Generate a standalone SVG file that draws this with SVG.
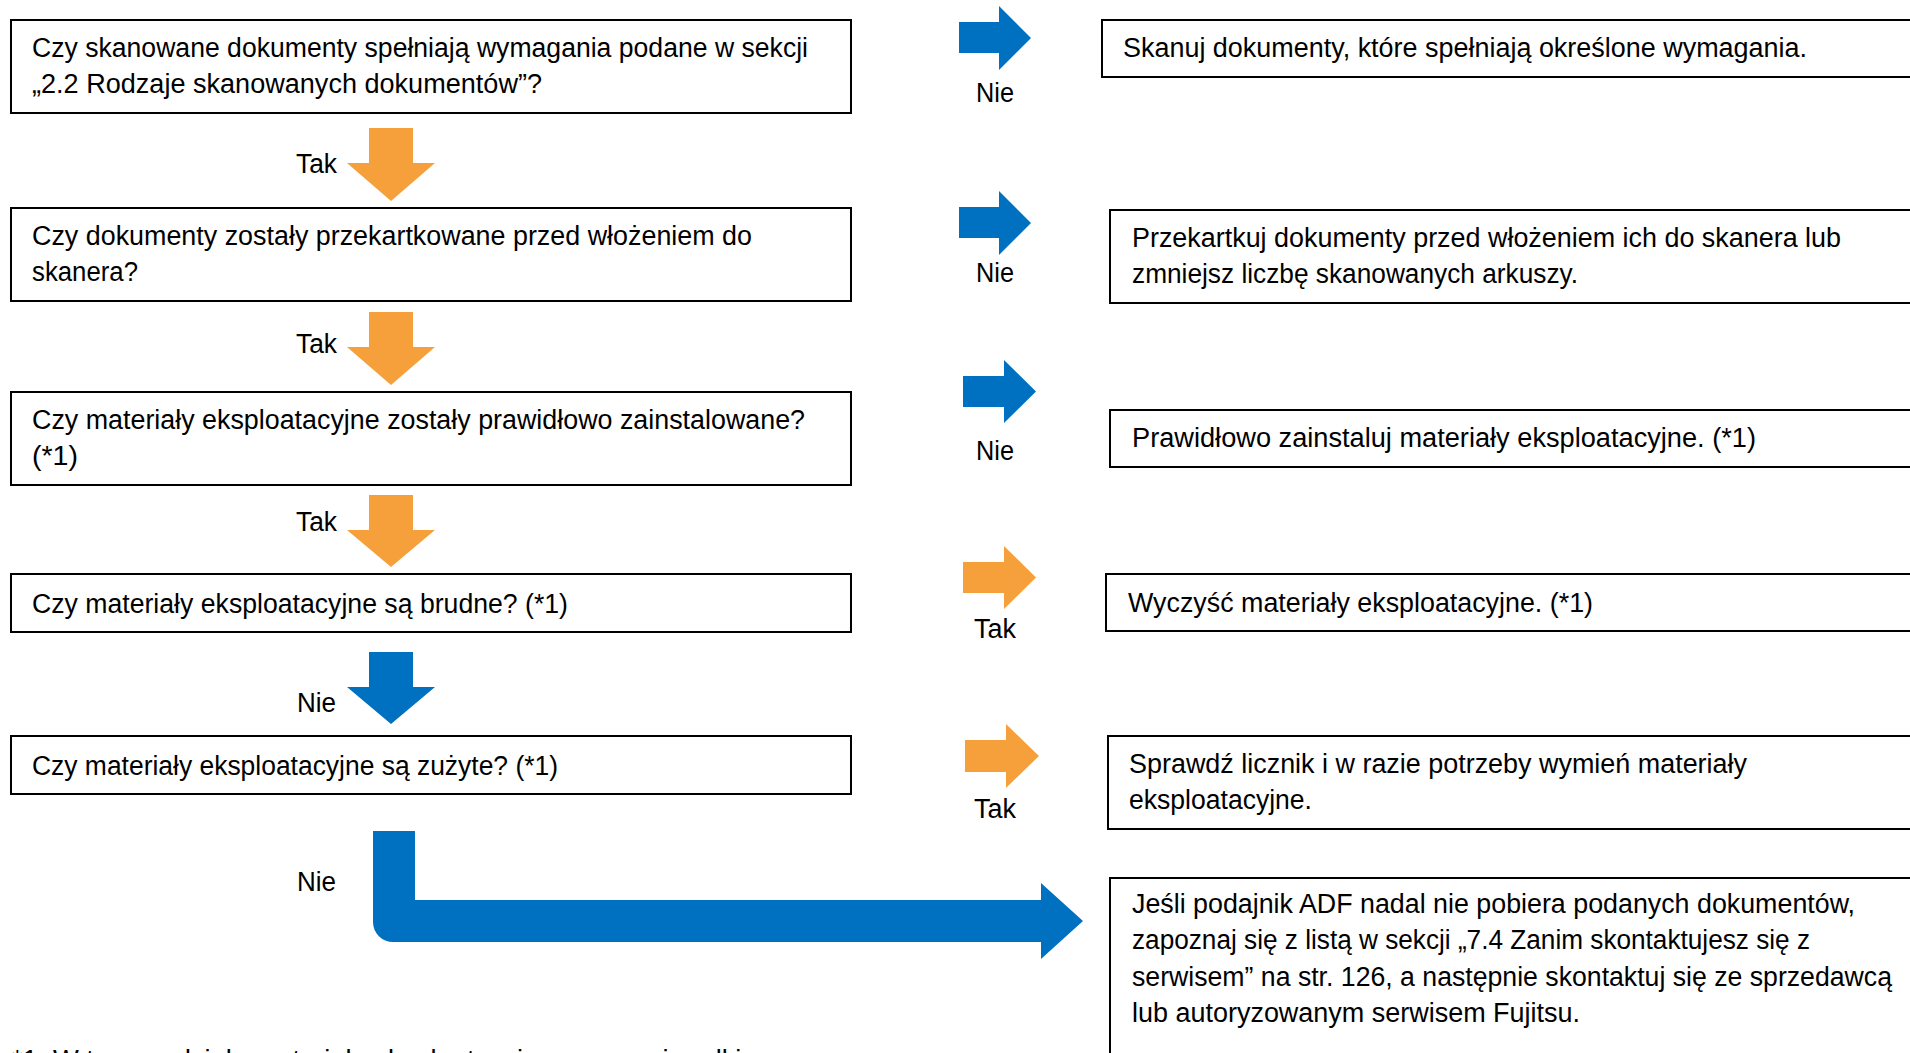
<svg xmlns="http://www.w3.org/2000/svg" width="1910" height="1053" viewBox="0 0 1910 1053">
  <style>
    .box { fill: #ffffff; stroke: #000000; stroke-width: 2; }
    .txt { font-family: "Liberation Sans", Arial, sans-serif; font-size: 27px; fill: #000000; }
    .yes { fill: #F6A03C; }
    .no { fill: #0070C0; }
  </style>
  <rect width="1910" height="1053" fill="#ffffff"/>

  <!-- question column -->
  <g id="q1">
    <rect class="box" x="11" y="20" width="840" height="93"/>
    <text class="txt" x="32" y="57" textLength="776" lengthAdjust="spacingAndGlyphs">Czy skanowane dokumenty spełniają wymagania podane w sekcji</text>
    <text class="txt" x="32" y="93" textLength="510" lengthAdjust="spacingAndGlyphs">„2.2 Rodzaje skanowanych dokumentów”?</text>
  </g>
  <g id="q2">
    <rect class="box" x="11" y="208" width="840" height="93"/>
    <text class="txt" x="32" y="245" textLength="720" lengthAdjust="spacingAndGlyphs">Czy dokumenty zostały przekartkowane przed włożeniem do</text>
    <text class="txt" x="32" y="281" textLength="106" lengthAdjust="spacingAndGlyphs">skanera?</text>
  </g>
  <g id="q3">
    <rect class="box" x="11" y="392" width="840" height="93"/>
    <text class="txt" x="32" y="429" textLength="773" lengthAdjust="spacingAndGlyphs">Czy materiały eksploatacyjne zostały prawidłowo zainstalowane?</text>
    <text class="txt" x="32" y="465" textLength="46" lengthAdjust="spacingAndGlyphs">(*1)</text>
  </g>
  <g id="q4">
    <rect class="box" x="11" y="574" width="840" height="58"/>
    <text class="txt" x="32" y="613" textLength="536" lengthAdjust="spacingAndGlyphs">Czy materiały eksploatacyjne są brudne? (*1)</text>
  </g>
  <g id="q5">
    <rect class="box" x="11" y="736" width="840" height="58"/>
    <text class="txt" x="32" y="775" textLength="526" lengthAdjust="spacingAndGlyphs">Czy materiały eksploatacyjne są zużyte? (*1)</text>
  </g>

  <!-- action column (boxes run past the right edge) -->
  <g id="a1">
    <rect class="box" x="1102" y="20" width="830" height="57"/>
    <text class="txt" x="1123" y="57" textLength="684" lengthAdjust="spacingAndGlyphs">Skanuj dokumenty, które spełniają określone wymagania.</text>
  </g>
  <g id="a2">
    <rect class="box" x="1110" y="210" width="830" height="93"/>
    <text class="txt" x="1132" y="247" textLength="709" lengthAdjust="spacingAndGlyphs">Przekartkuj dokumenty przed włożeniem ich do skanera lub</text>
    <text class="txt" x="1132" y="283" textLength="446" lengthAdjust="spacingAndGlyphs">zmniejsz liczbę skanowanych arkuszy.</text>
  </g>
  <g id="a3">
    <rect class="box" x="1110" y="410" width="830" height="57"/>
    <text class="txt" x="1132" y="447" textLength="624" lengthAdjust="spacingAndGlyphs">Prawidłowo zainstaluj materiały eksploatacyjne. (*1)</text>
  </g>
  <g id="a4">
    <rect class="box" x="1106" y="574" width="830" height="57"/>
    <text class="txt" x="1128" y="612" textLength="465" lengthAdjust="spacingAndGlyphs">Wyczyść materiały eksploatacyjne. (*1)</text>
  </g>
  <g id="a5">
    <rect class="box" x="1108" y="736" width="830" height="93"/>
    <text class="txt" x="1129" y="773" textLength="618" lengthAdjust="spacingAndGlyphs">Sprawdź licznik i w razie potrzeby wymień materiały</text>
    <text class="txt" x="1129" y="809" textLength="183" lengthAdjust="spacingAndGlyphs">eksploatacyjne.</text>
  </g>
  <g id="a6">
    <rect class="box" x="1110" y="878" width="830" height="200"/>
    <text class="txt" x="1132" y="913" textLength="723" lengthAdjust="spacingAndGlyphs">Jeśli podajnik ADF nadal nie pobiera podanych dokumentów,</text>
    <text class="txt" x="1132" y="949" textLength="678" lengthAdjust="spacingAndGlyphs">zapoznaj się z listą w sekcji „7.4 Zanim skontaktujesz się z</text>
    <text class="txt" x="1132" y="986" textLength="760" lengthAdjust="spacingAndGlyphs">serwisem” na str. 126, a następnie skontaktuj się ze sprzedawcą</text>
    <text class="txt" x="1132" y="1022" textLength="448" lengthAdjust="spacingAndGlyphs">lub autoryzowanym serwisem Fujitsu.</text>
  </g>

  <!-- block-arrow connectors with their answer labels -->
  <g id="connectors">
    <path class="yes" d="M369,128 H413 V163 H435 L391,201 L347,163 H369 Z"/>
    <path class="yes" d="M369,312 H413 V347 H435 L391,385 L347,347 H369 Z"/>
    <path class="yes" d="M369,495 H413 V530 H435 L391,567 L347,530 H369 Z"/>
    <path class="no" d="M369,652 H413 V687 H435 L391,724 L347,687 H369 Z"/>
    <path class="no" d="M373,831 H415 V900 H1041 V883 L1083,921 L1041,959 V942 H393 A20,20 0 0 1 373,922 Z"/>

    <path class="no" d="M959,22 H999 V6 L1031,38 L999,70 V53 H959 Z"/>
    <path class="no" d="M959,207 H999 V191 L1031,223 L999,255 V238 H959 Z"/>
    <path class="no" d="M963,376 H1004 V360 L1036,391.5 L1004,423 V407 H963 Z"/>
    <path class="yes" d="M963,562 H1004 V546 L1036,577.5 L1004,609 V593 H963 Z"/>
    <path class="yes" d="M965,740 H1006 V724 L1039,756 L1006,788 V772 H965 Z"/>

    <text class="txt" x="296" y="173" textLength="41" lengthAdjust="spacingAndGlyphs">Tak</text>
    <text class="txt" x="296" y="353" textLength="41" lengthAdjust="spacingAndGlyphs">Tak</text>
    <text class="txt" x="296" y="531" textLength="41" lengthAdjust="spacingAndGlyphs">Tak</text>
    <text class="txt" x="297" y="712" textLength="39" lengthAdjust="spacingAndGlyphs">Nie</text>
    <text class="txt" x="297" y="891" textLength="39" lengthAdjust="spacingAndGlyphs">Nie</text>

    <text class="txt" x="976" y="102" textLength="38" lengthAdjust="spacingAndGlyphs">Nie</text>
    <text class="txt" x="976" y="282" textLength="38" lengthAdjust="spacingAndGlyphs">Nie</text>
    <text class="txt" x="976" y="460" textLength="38" lengthAdjust="spacingAndGlyphs">Nie</text>
    <text class="txt" x="974" y="638" textLength="42" lengthAdjust="spacingAndGlyphs">Tak</text>
    <text class="txt" x="974" y="818" textLength="42" lengthAdjust="spacingAndGlyphs">Tak</text>
  </g>

  <!-- footnote, mostly below the lower edge -->
  <g id="footnote">
    <text class="txt" x="12" y="1069" textLength="737" lengthAdjust="spacingAndGlyphs">*1: W tym rozdziale materiały eksploatacyjne oznaczają rolki.</text>
  </g>
</svg>
